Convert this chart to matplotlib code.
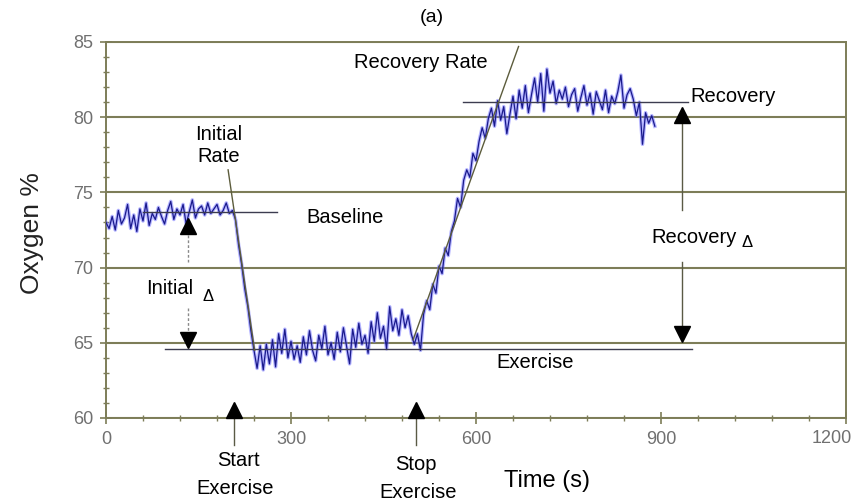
import numpy as np
import matplotlib
matplotlib.use("Agg")
import matplotlib.pyplot as plt
from matplotlib.ticker import MultipleLocator, FuncFormatter

plt.rcParams["font.family"] = ["Liberation Sans", "DejaVu Sans"]

# ---------------------------------------------------------------------------
# Oxygen trace, one reading every 5 s, split by phase
# ---------------------------------------------------------------------------
STEP_S = 5

baseline_o2 = [73.0, 72.6, 73.4, 72.5, 73.8, 72.9, 73.3, 74.2, 72.6, 73.5,
               72.4, 73.9, 73.1, 74.3, 72.8, 73.6, 73.2, 74.0, 73.4, 72.9,
               73.8, 74.4, 73.2, 73.9, 73.5, 74.2, 72.9, 73.7, 74.5, 73.3,
               73.9, 74.1, 73.5, 74.3, 73.6, 73.9, 74.2, 73.5, 73.8, 74.3,
               73.6, 73.8]
drop_o2 = [73.2, 71.5, 70.2, 68.6, 67.4, 65.8, 64.5, 63.3, 64.8]
exercise_o2 = [63.2, 64.9, 63.6, 65.2, 63.4, 65.6, 64.3, 65.9, 64.0, 65.1,
               63.9, 64.8, 63.7, 65.4, 64.2, 65.8, 64.5, 63.8, 65.5, 64.6,
               66.1, 64.2, 65.0, 63.9, 65.7, 64.4, 66.0, 64.8, 63.6, 65.9,
               64.7, 66.3, 64.9, 65.5, 64.3, 66.4, 65.1, 67.0, 65.3, 66.1,
               64.6, 67.4, 65.8, 66.6, 65.5, 67.2, 66.0, 66.8, 65.6, 64.9]
rise_o2 = [65.6, 64.5, 66.9, 67.8, 67.2, 68.9, 68.3, 70.1, 69.6, 71.3,
           70.8, 72.4, 73.1, 74.6, 74.0, 75.8, 76.5, 76.0, 77.6, 77.1,
           78.4, 79.3, 78.6, 79.9, 80.6, 79.4, 81.1, 79.8, 80.7, 78.9]
recovered_o2 = [80.2, 81.4, 79.9, 81.8, 80.6, 82.1, 80.3, 81.5, 82.6, 81.0,
                82.9, 80.4, 83.2, 81.6, 82.4, 80.9, 81.8, 81.2, 82.0, 80.7,
                81.5, 81.9, 80.4, 81.3, 82.1, 80.8, 81.6, 80.2, 81.7, 81.1,
                80.5, 81.8, 80.3, 81.4, 80.9, 81.7, 82.8, 80.6, 81.5, 81.9,
                81.2, 80.1, 81.0, 78.2, 80.3, 79.6, 80.1, 79.4]

oxygen = np.array(baseline_o2 + drop_o2 + exercise_o2 + rise_o2 + recovered_o2)
time_s = np.arange(len(oxygen)) * STEP_S

# Reference levels and fitted rates: (x0, x1, y0, y1)
baseline_line = (60, 277, 73.7, 73.7)
exercise_line = (96, 951, 64.6, 64.6)
recovery_line = (579, 943, 81.0, 81.0)
initial_rate_line = (198, 241, 76.5, 64.5)
recovery_rate_line = (498, 669, 65.2, 84.7)

# Event times (s)
start_exercise = 208
stop_exercise = 502

X_MAX = 1200
GRID = "#7d7d58"
TICK_TXT = "#707070"
GUIDE = "#3c3c50"
SHAFT = "#5a5a45"
LABEL_FS = 14.5
TICK_FS = 13

fig = plt.figure(figsize=(8.53, 5.03), dpi=100)
ax = fig.add_axes([106 / 853, 85 / 503, 740 / 853, 376 / 503])

# --- signal ---
ax.plot(time_s, oxygen, color="#6b6bff", lw=2.6, alpha=0.5, zorder=3)
ax.plot(time_s, oxygen, color="#1a1a8c", lw=0.9, zorder=4)

# --- level and rate guides ---
for x0, x1, y0, y1 in (baseline_line, exercise_line, recovery_line):
    ax.plot([x0, x1], [y0, y1], color=GUIDE, lw=1.0, zorder=5)
for x0, x1, y0, y1 in (initial_rate_line, recovery_rate_line):
    ax.plot([x0, x1], [y0, y1], color="#5c5c3c", lw=1.0, zorder=5)

# --- axes styling ---
ax.set_xlim(0, X_MAX)
ax.set_ylim(60, 85)
ax.xaxis.set_major_locator(MultipleLocator(300))
ax.xaxis.set_minor_locator(MultipleLocator(60))
ax.yaxis.set_major_locator(MultipleLocator(5))
ax.yaxis.set_minor_locator(MultipleLocator(1))
# the right-most label is drawn separately so it stays inside the figure
ax.xaxis.set_major_formatter(
    FuncFormatter(lambda v, pos: "" if v >= X_MAX else f"{v:g}"))
ax.yaxis.grid(True, color=GRID, lw=1.5, zorder=1)
ax.set_axisbelow(True)
for sp in ax.spines.values():
    sp.set_color(GRID)
    sp.set_linewidth(1.4)
ax.tick_params(which="major", direction="inout", length=8, width=1.2,
               color=GRID, labelcolor=TICK_TXT, labelsize=TICK_FS)
ax.tick_params(which="minor", direction="inout", length=4, width=1.0,
               color=GRID)
ax.tick_params(axis="x", pad=5)
ax.tick_params(axis="y", pad=5)
ax.annotate(f"{X_MAX}", xy=(X_MAX, 60), xytext=(4.5, -9),
            textcoords="offset points", ha="right", va="top",
            fontsize=TICK_FS, color=TICK_TXT, annotation_clip=False)

# --- delta arrows (shaft pieces + triangle heads) ---
def delta_arrow(x, top, bottom, gap_hi, gap_lo, head_h, ls="-", col=SHAFT):
    ax.plot([x, x], [top - head_h, gap_hi], color=col, lw=1.0, ls=ls, zorder=5)
    ax.plot([x, x], [gap_lo, bottom + head_h], color=col, lw=1.0, ls=ls, zorder=5)
    ax.plot(x, top - head_h / 2, marker="^", ms=12, color="black", zorder=6)
    ax.plot(x, bottom + head_h / 2, marker="v", ms=12, color="black", zorder=6)

delta_arrow(133, 73.3, 64.65, 70.4, 67.3, 1.1, ls=(0, (2, 1.5)), col="#8a8a8a")
delta_arrow(934, 80.7, 65.0, 73.8, 70.4, 1.15)

# --- event arrows below the plot ---
for t in (start_exercise, stop_exercise):
    ax.plot([t, t], [60.4, 58.2], color=SHAFT, lw=1.0, clip_on=False, zorder=5)
    ax.plot(t, 60.5, marker="^", ms=12, color="black", clip_on=False, zorder=6)

# --- labels ---
txt = dict(fontsize=LABEL_FS, color="black", ha="center", va="center")
ax.text(182, 78.1, "Initial\nRate", linespacing=1.2, **txt)
ax.text(388, 73.36, "Baseline", **txt)
ax.text(696, 63.66, "Exercise", **txt)
ax.text(510, 83.67, "Recovery Rate", **txt)
ax.text(947, 81.35, "Recovery", fontsize=LABEL_FS, color="black",
        ha="left", va="center")
ax.text(104, 68.6, "Initial", **txt)
ax.text(166, 68.1, "Δ", fontsize=12, color="black", ha="center", va="center")
ax.text(953, 72.0, "Recovery", **txt)
ax.text(1040, 71.7, "Δ", fontsize=12, color="black", ha="center", va="center")

fig.text(238 / 853, 1 - 461 / 503, "Start", fontsize=LABEL_FS,
         ha="center", va="center")
fig.text(235 / 853, 1 - 489 / 503, "Exercise", fontsize=LABEL_FS,
         ha="center", va="center")
fig.text(416 / 853, 1 - 465 / 503, "Stop", fontsize=LABEL_FS,
         ha="center", va="center")
fig.text(418 / 853, 1 - 493 / 503, "Exercise", fontsize=LABEL_FS,
         ha="center", va="center")
fig.text(547 / 853, 1 - 481 / 503, "Time (s)", fontsize=17,
         ha="center", va="center")
fig.text(32 / 853, 1 - 233 / 503, "Oxygen %", fontsize=19, rotation=90,
         ha="center", va="center", color="#222222")
fig.text(432 / 853, 1 - 18 / 503, "(a)", fontsize=14, ha="center", va="center")

fig.savefig("out.png", dpi=100)
plt.close(fig)
